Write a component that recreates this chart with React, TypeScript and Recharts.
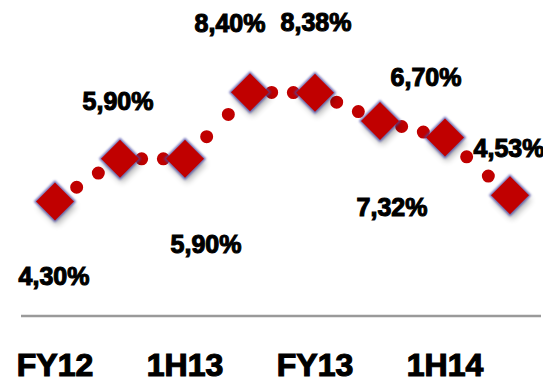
import { LineChart, Line, XAxis, YAxis, LabelList } from 'recharts';

// periods (only every other one is labelled on the axis)
const periods = ['FY12', '', '1H13', '', 'FY13', '', '1H14', ''];
const values = [4.3, 5.9, 5.9, 8.4, 8.38, 7.32, 6.7, 4.53];

// label placement relative to each diamond (dx, dy)
const labelOffsets: [number, number][] = [
  [-1, 75],
  [-2, -58],
  [21, 85],
  [-20, -69],
  [1, -71],
  [12, 86],
  [-19, -61],
  [-1, -47],
];

const RED = '#c00000';
const FONT = '"Liberation Sans", Arial, sans-serif';

const segCount = values.length - 1;
const data = periods.map((period, i) => {
  const row: Record<string, any> = { period, value: values[i] };
  for (let s = 0; s < segCount; s++) {
    row[`s${s}`] = i === s || i === s + 1 ? values[i] : null;
  }
  return row;
});

const fmt = (v: number) => `${v.toFixed(2).replace('.', ',')}%`;

const Diamond = (props: any) => {
  const { cx, cy } = props;
  if (cx == null || cy == null) return null;
  const r = 19;
  const d = `M${cx},${cy - r} L${cx + r},${cy} L${cx},${cy + r} L${cx - r},${cy} Z`;
  return (
    <g>
      <path d={d} fill="#000" opacity={0.3} filter="url(#dshadow)" transform="translate(2,5)" />
      <path d={d} fill="none" stroke="#4a4aa8" strokeWidth={3} opacity={0.8} filter="url(#edgeblur)" />
      <path d={d} fill={RED} />
    </g>
  );
};

const PointLabel = (props: any) => {
  const { x, y, value, index } = props;
  const [dx, dy] = labelOffsets[index] || [0, -40];
  return (
    <text
      x={x + dx}
      y={y + dy + 9}
      textAnchor="middle"
      fontFamily={FONT}
      fontSize={25}
      fontWeight={700}
      fill="#000"
      stroke="#000"
      strokeWidth={1.1}
    >
      {fmt(value)}
    </text>
  );
};

const PeriodTick = (props: any) => {
  const { x, y, payload } = props;
  if (!payload.value) return null;
  return (
    <text
      x={x}
      y={y + 52}
      textAnchor="middle"
      fontFamily={FONT}
      fontSize={32}
      fontWeight={700}
      fill="#000"
      stroke="#000"
      strokeWidth={1.2}
    >
      {payload.value}
    </text>
  );
};

export default function App() {
  return (
    <div style={{ margin: -8, width: 551, height: 385, background: '#fff' }}>
      <LineChart width={551} height={385} data={data} margin={{ top: 23, right: 10, bottom: 0, left: 21 }}>
        <defs>
          <filter id="dshadow" x="-50%" y="-50%" width="200%" height="200%">
            <feGaussianBlur stdDeviation={3} />
          </filter>
          <filter id="edgeblur" x="-30%" y="-30%" width="160%" height="160%">
            <feGaussianBlur stdDeviation={1} />
          </filter>
        </defs>
        <XAxis
          dataKey="period"
          height={69}
          padding={{ left: 34, right: 31 }}
          axisLine={{ stroke: '#9a9a9a', strokeWidth: 2.5 }}
          tickLine={false}
          interval={0}
          tick={<PeriodTick />}
        />
        <YAxis hide domain={[0, 11]} />
        {Array.from({ length: segCount }, (_, s) => (
          <Line
            key={s}
            dataKey={`s${s}`}
            stroke={RED}
            strokeWidth={13}
            strokeLinecap="round"
            strokeDasharray="0 1"
            pathLength={3}
            dot={false}
            activeDot={false}
            connectNulls={false}
            isAnimationActive={false}
          />
        ))}
        <Line
          dataKey="value"
          stroke="none"
          dot={<Diamond />}
          activeDot={false}
          isAnimationActive={false}
        >
          <LabelList dataKey="value" content={<PointLabel />} />
        </Line>
      </LineChart>
    </div>
  );
}
